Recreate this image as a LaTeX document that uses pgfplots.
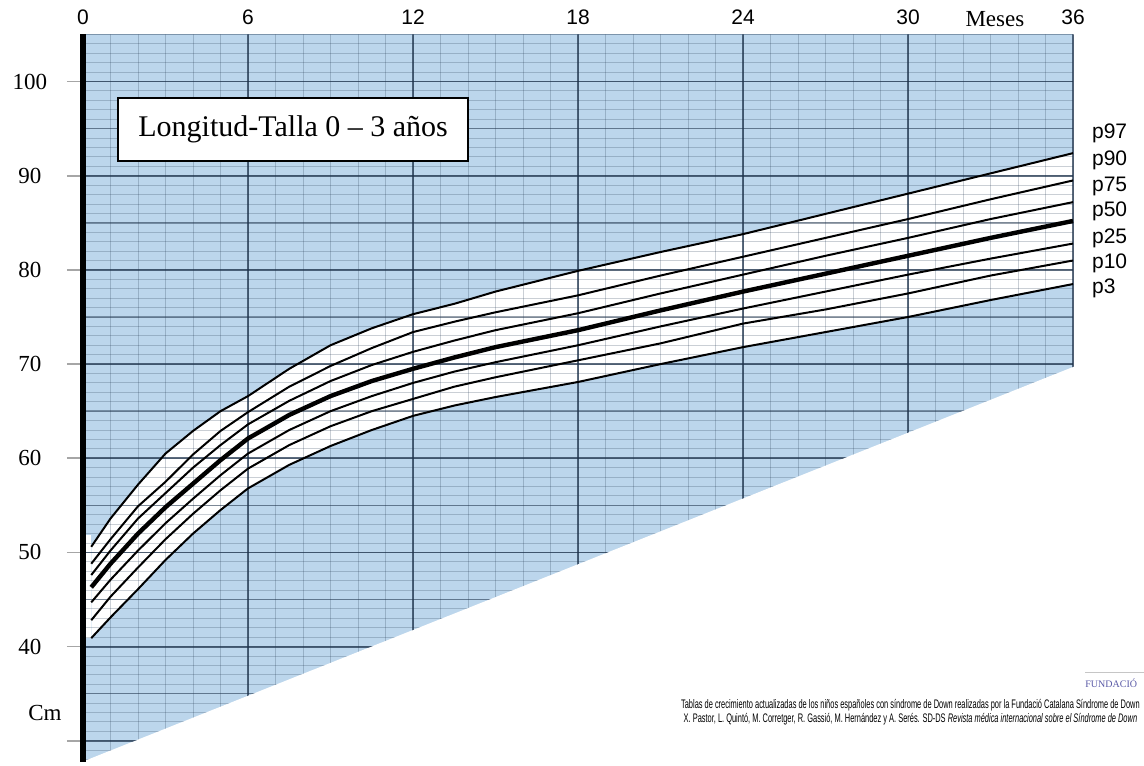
\documentclass[border=0pt]{standalone}
\usepackage{pgfplots}
\pgfplotsset{compat=1.18}
\usepgfplotslibrary{fillbetween}
\usepackage{pgfplotstable}
\usepackage{fontspec}
\setmainfont{Liberation Serif}
\newfontfamily\lsans{Liberation Sans}
\definecolor{bgblue}{RGB}{188,214,236}
\definecolor{gridc}{RGB}{30,50,75}

\pgfplotstableread{
m    p3   p10  p25  p50  p75  p90  p97
0.3  40.9 42.8 44.7 46.3 47.6 48.8 50.6
1    43.1 45.3 47.1 48.8 50.2 51.4 53.6
2    46.1 48.4 50.2 52.0 53.6 54.9 57.2
3    49.2 51.4 53.1 54.8 56.3 57.5 60.5
4    52.0 54.1 55.7 57.3 59.0 60.4 62.9
5    54.5 56.6 58.2 59.8 61.4 62.9 65.0
6    56.8 58.9 60.5 62.1 63.6 64.9 66.6
7.5  59.3 61.4 63.0 64.6 66.1 67.6 69.5
9    61.3 63.4 65.0 66.6 68.2 69.8 72.0
10.5 63.0 65.0 66.6 68.2 69.9 71.7 73.8
12   64.5 66.3 68.0 69.5 71.3 73.4 75.3
13.5 65.6 67.6 69.2 70.7 72.5 74.5 76.4
15   66.5 68.6 70.2 71.8 73.6 75.5 77.7
18   68.1 70.4 72.0 73.6 75.4 77.3 79.9
21   70.0 72.2 74.0 75.7 77.5 79.4 81.9
24   71.8 74.3 75.9 77.7 79.5 81.4 83.8
27   73.4 75.8 77.7 79.6 81.5 83.4 85.95
30   75.0 77.5 79.5 81.5 83.4 85.4 88.1
33   76.8 79.4 81.2 83.4 85.4 87.5 90.25
36   78.5 81.0 82.8 85.2 87.2 89.5 92.4
}\growth

\begin{document}
\begin{tikzpicture}
\begin{axis}[
  at={(0,0)}, anchor=south west,
  scale only axis, width=495pt, height=363.5pt,
  xmin=0, xmax=36, ymin=27.8, ymax=105,
  clip=false,
  axis x line*=top, axis y line*=left,
  x axis line style={draw=none},
  y axis line style={draw=none},
  axis background/.style={fill=bgblue},
  xtick={0,6,...,36},
  ytick={30,40,...,100},
  yticklabels={{},40,50,60,70,80,90,100},
  tick align=outside,
  major tick length=8pt,
  xtick style={draw=none},
  ytick style={draw=gray!70, line width=0.8pt},
  /pgf/number format/assume math mode=true,
  xticklabel style={font=\lsans\fontsize{10.5}{12}\selectfont, yshift=-6.5pt},
  yticklabel style={font=\fontsize{11.5}{13}\selectfont, text width=24pt, align=center, xshift=-3pt},
]
% white triangle below the chart area
\addplot[fill=white, draw=none, forget plot] coordinates {(0,27.8) (36.4,70.16) (36.4,27.0) (0,27.0)};
% white patch at birth
\addplot[fill=white, draw=none, forget plot] coordinates {(0.03,40.9) (0.03,51.8) (0.3,51.8) (0.3,40.9)};

% millimetre-paper grid, above the white band, clipped to the chart area
\begin{scope}
\clip (axis cs:0,27.8) -- (axis cs:36.3,70.05) -- (axis cs:36.3,105) -- (axis cs:0,105) -- cycle;
\pgfplotsinvokeforeach{0,...,36}{\draw[gridc, opacity=0.23, line width=0.5pt] (axis cs:#1,27.8) -- (axis cs:#1,105);}
\pgfplotsinvokeforeach{28,...,105}{\draw[gridc, opacity=0.23, line width=0.5pt] (axis cs:0,#1) -- (axis cs:36,#1);}
\pgfplotsinvokeforeach{35,45,...,105}{\draw[gridc, opacity=0.45, line width=0.7pt] (axis cs:0,#1) -- (axis cs:36,#1);}
\pgfplotsinvokeforeach{30,40,...,100}{\draw[gridc, opacity=0.72, line width=0.9pt] (axis cs:0,#1) -- (axis cs:36,#1);}
\pgfplotsinvokeforeach{6,12,...,36}{\draw[gridc, opacity=0.72, line width=0.9pt] (axis cs:#1,27.8) -- (axis cs:#1,105);}
\end{scope}

\addplot[name path=p97, black, line width=1pt] table[x=m,y=p97]{\growth};
\addplot[black, line width=1pt] table[x=m,y=p90]{\growth};
\addplot[black, line width=1pt] table[x=m,y=p75]{\growth};
\addplot[black, line width=2.2pt] table[x=m,y=p50]{\growth};
\addplot[black, line width=1pt] table[x=m,y=p25]{\growth};
\addplot[black, line width=1pt] table[x=m,y=p10]{\growth};
\addplot[name path=p3, black, line width=1pt] table[x=m,y=p3]{\growth};
\addplot[white] fill between[of=p97 and p3];

\draw[line width=2.6pt, black] (axis cs:0,27.8) -- (axis cs:0,105);

\node[draw, line width=1pt, fill=white, minimum width=175pt, minimum height=31.5pt,
      font=\fontsize{15}{17}\selectfont] at (axis cs:7.64,94.96) {Longitud-Talla 0 -- 3 años};

\node[font=\fontsize{11.5}{13}\selectfont, yshift=7.5pt] at (axis cs:33.16,105) {Meses};
\node[font=\fontsize{11.5}{13}\selectfont, xshift=-19pt] at (axis cs:0,33.0) {Cm};

\node[anchor=west, xshift=6pt, font=\lsans\fontsize{10.5}{12}\selectfont] at (axis cs:36,94.5) {p97};
\node[anchor=west, xshift=6pt, font=\lsans\fontsize{10.5}{12}\selectfont] at (axis cs:36,91.6) {p90};
\node[anchor=west, xshift=6pt, font=\lsans\fontsize{10.5}{12}\selectfont] at (axis cs:36,88.85) {p75};
\node[anchor=west, xshift=6pt, font=\lsans\fontsize{10.5}{12}\selectfont] at (axis cs:36,86.2) {p50};
\node[anchor=west, xshift=6pt, font=\lsans\fontsize{10.5}{12}\selectfont] at (axis cs:36,83.3) {p25};
\node[anchor=west, xshift=6pt, font=\lsans\fontsize{10.5}{12}\selectfont] at (axis cs:36,80.7) {p10};
\node[anchor=west, xshift=6pt, font=\lsans\fontsize{10.5}{12}\selectfont] at (axis cs:36,78.0) {p3};
\end{axis}
\draw[gray!45, line width=0.6pt] (501pt,44.5pt) -- (545pt,44.5pt);
\node[anchor=west, inner sep=0pt, text=gray!70!blue, font=\fontsize{5}{6}\selectfont] at (501pt,39pt) {FUNDACIÓ};
\node[anchor=east, inner sep=0pt, xscale=0.6, align=center, font=\lsans\fontsize{6.2}{5.6}\selectfont] at (528.5pt,24.5pt)
  {Tablas de crecimiento actualizadas de los niños españoles con síndrome de Down realizadas por la Fundació Catalana Síndrome de Down\\
   X. Pastor, L. Quintó, M. Corretger, R. Gassió, M. Hernández y A. Serés. SD-DS \textit{Revista médica internacional sobre el Síndrome de Down}};
\pgfresetboundingbox
\path[use as bounding box] (-41.5pt,-2pt) rectangle (530.5pt,380.75pt);
\end{tikzpicture}
\end{document}
